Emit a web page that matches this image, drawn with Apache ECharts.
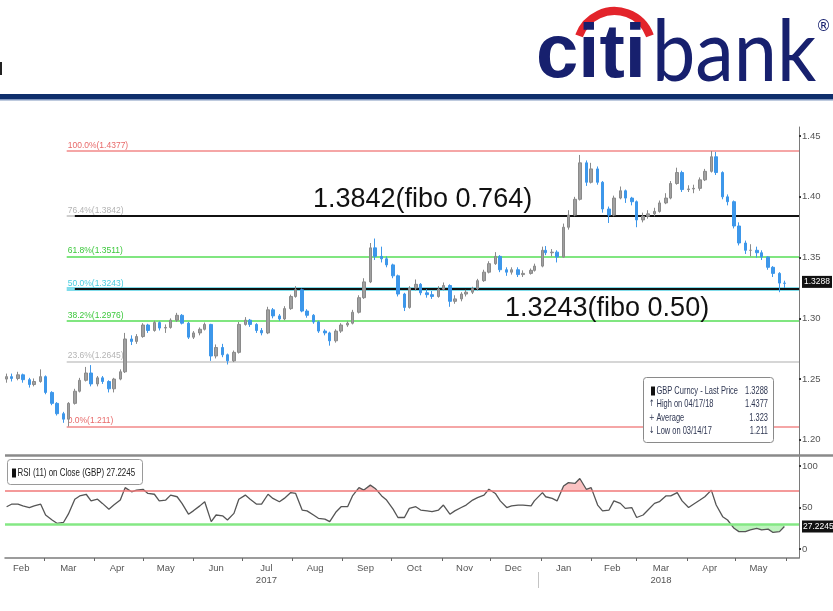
<!DOCTYPE html>
<html><head><meta charset="utf-8">
<script src="https://cdn.jsdelivr.net/npm/echarts@6/dist/echarts.min.js"></script>
<style>html,body{margin:0;padding:0;background:#fff}#c{width:833px;height:611px}</style>
</head><body><div id="c"></div>
<script>
// ---------- DATA ----------
const dates = [
'2017-02-06','2017-02-09','2017-02-13','2017-02-16','2017-02-20','2017-02-23','2017-02-27',
'2017-03-02','2017-03-06','2017-03-09','2017-03-13','2017-03-16','2017-03-20','2017-03-23','2017-03-27','2017-03-30',
'2017-04-03','2017-04-06','2017-04-10','2017-04-13','2017-04-17','2017-04-20','2017-04-24','2017-04-27',
'2017-05-01','2017-05-04','2017-05-08','2017-05-11','2017-05-15','2017-05-18','2017-05-22','2017-05-25','2017-05-29',
'2017-06-01','2017-06-05','2017-06-08','2017-06-12','2017-06-15','2017-06-19','2017-06-22','2017-06-26','2017-06-29',
'2017-07-03','2017-07-06','2017-07-10','2017-07-13','2017-07-17','2017-07-20','2017-07-24','2017-07-27','2017-07-31',
'2017-08-03','2017-08-07','2017-08-10','2017-08-14','2017-08-17','2017-08-21','2017-08-24','2017-08-28','2017-08-31',
'2017-09-04','2017-09-07','2017-09-11','2017-09-14','2017-09-18','2017-09-21','2017-09-25','2017-09-28',
'2017-10-02','2017-10-05','2017-10-09','2017-10-12','2017-10-16','2017-10-19','2017-10-23','2017-10-26','2017-10-30',
'2017-11-02','2017-11-06','2017-11-09','2017-11-13','2017-11-16','2017-11-20','2017-11-23','2017-11-27','2017-11-30',
'2017-12-04','2017-12-07','2017-12-11','2017-12-14','2017-12-18','2017-12-21','2017-12-26','2017-12-28',
'2018-01-02','2018-01-04','2018-01-08','2018-01-11','2018-01-15','2018-01-18','2018-01-22','2018-01-25','2018-01-29',
'2018-02-01','2018-02-05','2018-02-08','2018-02-12','2018-02-15','2018-02-19','2018-02-22','2018-02-26',
'2018-03-01','2018-03-05','2018-03-08','2018-03-12','2018-03-15','2018-03-19','2018-03-22','2018-03-26','2018-03-29',
'2018-04-02','2018-04-05','2018-04-09','2018-04-12','2018-04-16','2018-04-19','2018-04-23','2018-04-26','2018-04-30',
'2018-05-03','2018-05-07','2018-05-10','2018-05-14','2018-05-17','2018-05-21','2018-05-24','2018-05-28','2018-05-31'
];
const opens = [
1.2500,1.2520,1.2505,1.2535,1.2495,1.2455,1.2480,
1.2520,1.2390,1.2300,1.2215,1.2170,1.2300,1.2400,1.2490,1.2550,
1.2460,1.2510,1.2480,1.2420,1.2500,1.2560,1.2830,1.2810,
1.2850,1.2945,1.2900,1.2965,1.2920,1.2925,1.2985,1.3025,1.2960,
1.2845,1.2880,1.2910,1.2950,1.2690,1.2760,1.2700,1.2650,1.2720,
1.2950,1.2985,1.2950,1.2900,1.2880,1.3070,1.3020,1.2995,1.3080,
1.3180,1.3235,1.3060,1.3025,1.2970,1.2895,1.2880,1.2815,1.2895,
1.2945,1.2960,1.3050,1.3170,1.3300,1.3580,1.3510,1.3490,
1.3440,1.3350,1.3200,1.3090,1.3250,1.3280,1.3210,1.3195,1.3180,
1.3240,1.3270,1.3140,1.3160,1.3200,1.3215,1.3245,1.3310,1.3380,
1.3450,1.3510,1.3400,1.3380,1.3400,1.3360,1.3370,1.3395,
1.3430,1.3560,1.3540,1.3545,1.3505,1.3750,1.3850,1.3980,1.4280,
1.4120,1.4230,1.4120,1.3900,1.3850,1.3990,1.4050,1.3990,
1.3960,1.3810,1.3840,1.3860,1.3880,1.3950,1.3990,1.4110,1.4200,
1.4060,1.4065,1.4070,1.4140,1.4210,1.4330,1.4200,1.4000,1.3960,
1.3760,1.3620,1.3560,1.3560,1.3540,1.3505,1.3420,1.3370,1.3290
];
const closes = [
1.2520,1.2505,1.2535,1.2495,1.2455,1.2480,1.2520,
1.2390,1.2300,1.2215,1.2170,1.2300,1.2400,1.2490,1.2550,1.2460,
1.2510,1.2480,1.2420,1.2500,1.2560,1.2830,1.2810,1.2850,
1.2945,1.2900,1.2965,1.2920,1.2925,1.2985,1.3025,1.2960,1.2845,
1.2880,1.2910,1.2950,1.2690,1.2760,1.2700,1.2650,1.2720,1.2950,
1.2985,1.2950,1.2900,1.2880,1.3070,1.3020,1.2995,1.3080,1.3180,
1.3235,1.3060,1.3025,1.2970,1.2895,1.2880,1.2815,1.2895,1.2945,
1.2960,1.3050,1.3170,1.3300,1.3580,1.3510,1.3490,1.3440,
1.3350,1.3200,1.3090,1.3250,1.3280,1.3210,1.3195,1.3180,1.3240,
1.3270,1.3140,1.3160,1.3200,1.3215,1.3245,1.3310,1.3380,1.3450,
1.3510,1.3400,1.3380,1.3400,1.3360,1.3370,1.3395,1.3430,
1.3560,1.3540,1.3545,1.3505,1.3750,1.3850,1.3980,1.4280,1.4120,
1.4230,1.4120,1.3900,1.3850,1.3990,1.4050,1.3990,1.3960,
1.3810,1.3840,1.3860,1.3880,1.3950,1.3990,1.4110,1.4200,1.4060,
1.4065,1.4070,1.4140,1.4210,1.4330,1.4200,1.4000,1.3960,1.3760,
1.3620,1.3560,1.3560,1.3540,1.3505,1.3420,1.3370,1.3290,1.3288
];
const lows = [
1.2470,1.2480,1.2490,1.2470,1.2430,1.2440,1.2470,
1.2375,1.2285,1.2200,1.2140,1.2110,1.2290,1.2390,1.2480,1.2440,
1.2440,1.2460,1.2390,1.2390,1.2490,1.2550,1.2780,1.2790,
1.2840,1.2880,1.2890,1.2900,1.2880,1.2915,1.2970,1.2950,1.2830,
1.2830,1.2860,1.2900,1.2650,1.2670,1.2680,1.2620,1.2640,1.2710,
1.2940,1.2930,1.2880,1.2860,1.2870,1.3000,1.2980,1.2985,1.3070,
1.3170,1.3050,1.3005,1.2955,1.2880,1.2860,1.2775,1.2800,1.2880,
1.2930,1.2950,1.3040,1.3160,1.3290,1.3480,1.3460,1.3420,
1.3330,1.3180,1.3060,1.3080,1.3230,1.3190,1.3170,1.3160,1.3170,
1.3230,1.3095,1.3120,1.3140,1.3180,1.3200,1.3230,1.3300,1.3370,
1.3440,1.3380,1.3350,1.3360,1.3340,1.3340,1.3360,1.3385,
1.3420,1.3520,1.3510,1.3460,1.3500,1.3730,1.3840,1.3970,1.4090,
1.4110,1.4100,1.3870,1.3785,1.3840,1.3980,1.3950,1.3930,
1.3750,1.3790,1.3820,1.3840,1.3870,1.3940,1.3980,1.4100,1.4040,
1.4040,1.4030,1.4050,1.4130,1.4200,1.4180,1.3980,1.3930,1.3740,
1.3600,1.3530,1.3510,1.3500,1.3480,1.3400,1.3340,1.3215,1.3250
];
const highs = [
1.2545,1.2545,1.2560,1.2545,1.2510,1.2505,1.2580,
1.2530,1.2400,1.2310,1.2230,1.2310,1.2420,1.2510,1.2600,1.2615,
1.2525,1.2525,1.2490,1.2510,1.2580,1.2880,1.2860,1.2870,
1.2960,1.2955,1.2980,1.2975,1.2950,1.3000,1.3045,1.3035,1.2970,
1.2895,1.2925,1.2965,1.2955,1.2785,1.2790,1.2710,1.2735,1.2970,
1.3010,1.2995,1.2960,1.2920,1.3095,1.3085,1.3035,1.3100,1.3195,
1.3265,1.3245,1.3075,1.3035,1.2980,1.2910,1.2890,1.2910,1.2960,
1.2975,1.3070,1.3190,1.3330,1.3620,1.3657,1.3590,1.3510,
1.3450,1.3360,1.3210,1.3265,1.3320,1.3290,1.3240,1.3225,1.3265,
1.3295,1.3280,1.3190,1.3215,1.3235,1.3260,1.3325,1.3400,1.3470,
1.3545,1.3520,1.3420,1.3420,1.3420,1.3395,1.3410,1.3450,
1.3590,1.3595,1.3570,1.3560,1.3780,1.3890,1.4000,1.4345,1.4300,
1.4280,1.4250,1.4130,1.3920,1.4010,1.4085,1.4060,1.4000,
1.3970,1.3870,1.3890,1.3910,1.3970,1.4030,1.4130,1.4240,1.4215,
1.4095,1.4100,1.4160,1.4230,1.4377,1.4370,1.4210,1.4020,1.3970,
1.3790,1.3640,1.3610,1.3590,1.3560,1.3510,1.3430,1.3380,1.3310
];
const rsi = [
51,54,54,52,50,52,54,
41,35,31,32,42,60,64,66,58,
60,55,48,53,59,74,69,71,
72,67,66,58,59,65,63,55,42,
46,52,57,33,41,40,35,43,60,
65,60,54,54,66,61,57,61,68,
67,47,46,41,37,36,33,45,51,
51,64,74,71,77,73,64,59,
48,38,38,49,51,47,46,45,47,
53,42,46,50,53,59,62,65,72,
67,58,50,52,53,53,52,58,
68,63,61,58,76,80,79,85,72,
74,53,46,47,58,55,49,50,
38,41,47,55,57,64,64,68,58,
50,54,59,63,71,53,39,35,25,
21,21,23,25,23,24,20,21,27.2245
];
const priceTicks = [1.20, 1.25, 1.30, 1.35, 1.40, 1.45];
const rsiTicks = [0, 50, 100];
const monthTickDates = ['2017-03-01','2017-04-01','2017-05-01','2017-06-01','2017-07-01','2017-08-01','2017-09-01','2017-10-01','2017-11-01','2017-12-01','2018-01-01','2018-02-01','2018-03-01','2018-04-01','2018-05-01','2018-06-01'];
const monthLabelDates = ['2017-02-15','2017-03-16','2017-04-15','2017-05-15','2017-06-15','2017-07-16','2017-08-15','2017-09-15','2017-10-15','2017-11-15','2017-12-15','2018-01-15','2018-02-14','2018-03-16','2018-04-15','2018-05-15'];
const monthLabels = ['Feb','Mar','Apr','May','Jun','Jul','Aug','Sep','Oct','Nov','Dec','Jan','Feb','Mar','Apr','May'];
const yearLabels = ['', '', '', '', '', '2017', '', '', '', '', '', '', '', '2018', '', ''];
const fibLevels = [1.4377, 1.3842, 1.3511, 1.3243, 1.2976, 1.2645, 1.211];
const fibPercents = ['100.0%', '76.4%', '61.8%', '50.0%', '38.2%', '23.6%', '0.0%'];
const keyLevels = [1.3842, 1.3243];
const keyLabels = ['1.3842(fibo 0.764)', '1.3243(fibo 0.50)'];
const lastPrice = 1.3288;
const lastRsi = 27.2245;
const rsiBands = [70, 30];
const legendNames = ['GBP Curncy - Last Price', 'High on 04/17/18', 'Average', 'Low on 03/14/17'];
const legendValues = ['1.3288', '1.4377', '1.323', '1.211'];
const rsiLegend = 'RSI (11) on Close (GBP) 27.2245';
const xMinDate = '2017-02-05', xMaxDate = '2018-06-09';
const fibStartDate = '2017-03-15', keyStartDate = '2017-03-20';

// ---------- STYLE ----------
const SANS = '"Liberation Sans", Arial, sans-serif';
const ts = s => new Date(s + 'T00:00:00').getTime();
const xMin = ts(xMinDate), xMax = ts(xMaxDate);
const fibLine = ['#f5a6a6', '#cfcfcf', '#80e680', '#80dcea', '#80e680', '#d6d6d6', '#f5a6a6'];
const fibText = ['#e86a6a', '#b4b4b4', '#3cc83c', '#49cde0', '#3cc83c', '#b4b4b4', '#e86a6a'];

const candleData = dates.map((d, i) => [ts(d), opens[i], closes[i], lows[i], highs[i]]);
const rsiData = dates.map((d, i) => [ts(d), rsi[i]]);
const labelTs = monthLabelDates.map(ts);

const fibMarks = fibLevels.map((v, i) => [
  {coord: [ts(fibStartDate), v], lineStyle: {color: fibLine[i], width: i === 3 ? 4 : 2, type: 'solid'},
   label: {show: true, position: 'insideStartTop', distance: 1, formatter: fibPercents[i] + '(' + v + ')',
           color: fibText[i], fontSize: 8.5, fontFamily: SANS}},
  {coord: [xMax, v]}
]);
const keyMarks = keyLevels.map(v => [
  {coord: [ts(keyStartDate), v], lineStyle: {color: '#111', width: 2, type: 'solid'}, label: {show: false}},
  {coord: [xMax, v]}
]);

function T(text, x, y, font, fill, align, va, sx) {
  return {type: 'text', silent: true, z: 100, x: x, y: y, scaleX: sx || 1,
    style: {text: text, x: 0, y: 0, font: font, fill: fill,
      textAlign: align || 'left', align: align || 'left', textVerticalAlign: va || 'middle', verticalAlign: va || 'middle'}};
}
const legendFont = '11px ' + SANS;
const legendColor = '#2e3652';
const rowY = [391, 404, 417.5, 431];
const icons = ['', '\u2191', '+', '\u2193'];
const transparent = 'rgba(0,0,0,0)';
const graphics = [
  {type: 'rect', shape: {x: 0, y: 94, width: 833, height: 5}, style: {fill: '#0f2f6c'}},
  {type: 'rect', shape: {x: 0, y: 99, width: 833, height: 1.5}, style: {fill: '#7f95bd'}},
  {type: 'rect', shape: {x: 0, y: 62, width: 2, height: 13}, style: {fill: '#222'}},
  T('citi', 536, 18, 'bold 76px ' + SANS, '#17206e', 'left', 'top'),
  T('bank', 652, 10, '86px Lato, "Open Sans", sans-serif', '#17206e', 'left', 'top', 0.9),
  T('\u00ae', 816, 20, '15px "DejaVu Sans"', '#17206e', 'left', 'top'),
  {type: 'arc', shape: {cx: 614.5, cy: 48.7, r: 37.7, startAngle: 200 * Math.PI / 180, endAngle: 340 * Math.PI / 180, clockwise: true},
   style: {stroke: '#e3242b', lineWidth: 8, fill: null}},
  {type: 'line', shape: {x1: 5, y1: 455.5, x2: 833, y2: 455.5}, style: {stroke: '#8a8a8a', lineWidth: 2.5}, z: 50},
  {type: 'line', shape: {x1: 538.5, y1: 572, x2: 538.5, y2: 588}, style: {stroke: '#c4c4c4', lineWidth: 1}},
  T(keyLabels[0], 313, 186, '27px ' + SANS, '#111', 'left', 'top'),
  T(keyLabels[1], 505, 295, '27px ' + SANS, '#111', 'left', 'top'),
  {type: 'rect', z: 90, shape: {x: 643.5, y: 377.5, width: 130, height: 65, r: 3}, style: {fill: '#fff', stroke: '#8a8a8a', lineWidth: 1}},
  {type: 'rect', z: 100, shape: {x: 651, y: 386.5, width: 4, height: 9}, style: {fill: '#111'}},
  {type: 'rect', z: 90, shape: {x: 7.5, y: 459.5, width: 135, height: 25, r: 3}, style: {fill: '#fff', stroke: '#9a9a9a', lineWidth: 1}},
  {type: 'rect', z: 100, shape: {x: 12, y: 468.5, width: 4, height: 9}, style: {fill: '#111'}},
  T(rsiLegend, 17.5, 473, '11.5px ' + SANS, '#222', 'left', 'middle', 0.69)
];
legendNames.forEach((n, i) => {
  if (icons[i]) graphics.push(T(icons[i], 649, rowY[i], '9px "DejaVu Sans"', legendColor, 'left', 'middle', 0.75));
  graphics.push(T(n, 656.5, rowY[i], legendFont, legendColor, 'left', 'middle', 0.68));
  graphics.push(T(legendValues[i], 768, rowY[i], legendFont, legendColor, 'right', 'middle', 0.68));
});

const option = {
  animation: false,
  backgroundColor: '#fff',
  grid: [
    {left: 5, right: 34, top: 127, height: 328, containLabel: false, outerBoundsMode: 'none'},
    {left: 5, right: 34, top: 455, height: 103, containLabel: false, outerBoundsMode: 'none'}
  ],
  xAxis: [
    {type: 'value', gridIndex: 0, min: xMin, max: xMax, show: false, splitLine: {show: false}},
    {type: 'value', gridIndex: 1, min: xMin, max: xMax,
     axisLine: {show: true, onZero: false, lineStyle: {color: '#7c7c7c', width: 1.5}},
     axisTick: {show: true, customValues: monthTickDates.map(ts), length: 3, lineStyle: {color: '#666'}},
     axisLabel: {show: true, customValues: labelTs, hideOverlap: false, fontSize: 9.5, color: '#555', fontFamily: SANS,
       margin: 4, lineHeight: 12, showMinLabel: true, showMaxLabel: true,
       formatter: function (v) {
         let k = -1;
         labelTs.forEach((t, i) => { if (Math.abs(t - v) < 43200000) k = i; });
         if (k < 0) return '';
         return monthLabels[k] + (yearLabels[k] ? '\n' + yearLabels[k] : '');
       }},
     splitLine: {show: false}}
  ],
  yAxis: [
    {type: 'value', gridIndex: 0, position: 'right', min: 1.1875, max: 1.4575,
     axisLine: {show: true, lineStyle: {color: '#7a7a7a', width: 1}},
     axisTick: {show: true, customValues: priceTicks, length: 2, lineStyle: {color: '#333', width: 2}},
     axisLabel: {show: true, customValues: priceTicks, formatter: v => v.toFixed(2), fontSize: 9.5, color: '#555', fontFamily: SANS, margin: 3},
     splitLine: {show: false}},
    {type: 'value', gridIndex: 1, position: 'right', min: -10.8, max: 113.3,
     axisLine: {show: true, lineStyle: {color: '#7a7a7a', width: 1}},
     axisTick: {show: true, customValues: rsiTicks, length: 2, lineStyle: {color: '#333', width: 2}},
     axisLabel: {show: true, customValues: rsiTicks, fontSize: 9.5, color: '#555', fontFamily: SANS, margin: 3},
     splitLine: {show: false}}
  ],
  visualMap: [{
    type: 'piecewise', show: false, seriesIndex: 1, dimension: 1,
    pieces: [
      {gt: 70, color: 'rgba(244,120,120,0.45)'},
      {gte: 30, lte: 70, color: 'rgba(255,255,255,0)'},
      {lt: 30, color: 'rgba(110,230,110,0.45)'}
    ]
  }],
  series: [
    {
      type: 'candlestick', xAxisIndex: 0, yAxisIndex: 0, data: candleData,
      encode: {x: 0, y: [1, 2, 3, 4]},
      barWidth: 3, z: 3,
      itemStyle: {color: '#a0a0a0', color0: '#3d97ea', borderColor: '#8a8a8a', borderColor0: '#3d97ea', borderWidth: 1},
      markLine: {
        silent: true, symbol: ['none', 'none'], animation: false, z: 2,
        data: fibMarks.concat(keyMarks).concat([
          {yAxis: lastPrice, lineStyle: {color: transparent, width: 0, type: 'solid'},
           label: {show: true, position: 'end', distance: 3, formatter: String(lastPrice), color: '#fff',
                   backgroundColor: '#111', padding: [2, 2, 1, 2], fontSize: 8.5, fontFamily: SANS}}
        ])
      }
    },
    {
      type: 'line', xAxisIndex: 1, yAxisIndex: 1, data: rsiData, symbol: 'none',
      lineStyle: {opacity: 0, width: 0}, areaStyle: {origin: 70, opacity: 1}, z: 1, silent: true
    },
    {
      type: 'line', xAxisIndex: 1, yAxisIndex: 1, data: rsiData, symbol: 'none', z: 4,
      lineStyle: {color: '#555', width: 1.3}, itemStyle: {color: '#555'},
      markLine: {
        silent: true, symbol: ['none', 'none'], animation: false,
        data: [
          {yAxis: rsiBands[0], lineStyle: {color: '#f07878', width: 1.5, type: 'solid'}, label: {show: false}},
          {yAxis: rsiBands[1], lineStyle: {color: '#84e884', width: 2.5, type: 'solid'}, label: {show: false}},
          {yAxis: lastRsi, lineStyle: {color: transparent, width: 0, type: 'solid'},
           label: {show: true, position: 'end', distance: 3, formatter: String(lastRsi), color: '#fff',
                   backgroundColor: '#111', padding: [2, 1, 1, 1], fontSize: 8.5, fontFamily: SANS}}
        ]
      }
    }
  ],
  graphic: graphics
};
const chart = echarts.init(document.getElementById('c'), null, {renderer: 'canvas'});
chart.setOption(option);
</script></body></html>
